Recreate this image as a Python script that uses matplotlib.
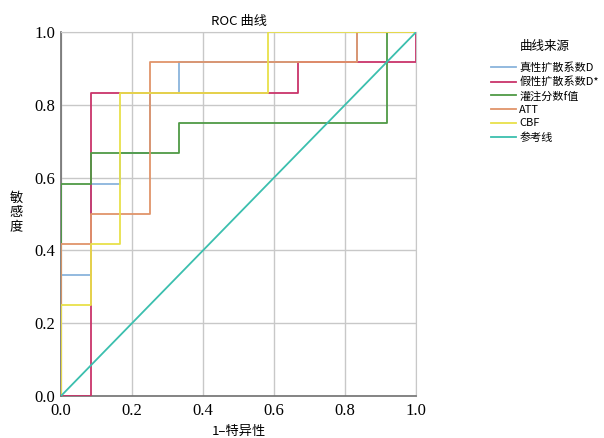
import matplotlib
matplotlib.use("Agg")
import matplotlib.pyplot as plt
from matplotlib.lines import Line2D

plt.rcParams['font.family'] = ['Noto Sans CJK SC', 'DejaVu Sans']

# ROC step points (1-specificity, sensitivity)
d_fpr = [0, 0, 1/12, 1/12, 2/12, 2/12, 3/12, 3/12, 4/12, 4/12, 10/12, 10/12, 1]
d_tpr = [0, 4/12, 4/12, 7/12, 7/12, 8/12, 8/12, 10/12, 10/12, 11/12, 11/12, 1, 1]

dstar_fpr = [0, 1/12, 1/12, 8/12, 8/12, 1, 1]
dstar_tpr = [0, 0, 10/12, 10/12, 11/12, 11/12, 1]

f_fpr = [0, 0, 1/12, 1/12, 4/12, 4/12, 11/12, 11/12, 1]
f_tpr = [0, 7/12, 7/12, 8/12, 8/12, 9/12, 9/12, 1, 1]

att_fpr = [0, 0, 1/12, 1/12, 3/12, 3/12, 10/12, 10/12, 1]
att_tpr = [0, 5/12, 5/12, 6/12, 6/12, 11/12, 11/12, 1, 1]

cbf_fpr = [0, 0, 1/12, 1/12, 2/12, 2/12, 7/12, 7/12, 1]
cbf_tpr = [0, 3/12, 3/12, 5/12, 5/12, 10/12, 10/12, 1, 1]

ref_x = [0, 1]
ref_y = [0, 1]

labels = ['真性扩散系数D', '假性扩散系数D*', '灌注分数f值', 'ATT', 'CBF', '参考线']
colors = ['#8ab4dc', '#c9346a', '#4f9a45', '#e0946a', '#e8e04a', '#3bbfae']

fig = plt.figure(figsize=(6.04, 4.38), dpi=100)
ax = fig.add_axes([0.101, 0.096, 0.588, 0.831])

series = [(d_fpr, d_tpr), (dstar_fpr, dstar_tpr), (f_fpr, f_tpr),
          (att_fpr, att_tpr), (cbf_fpr, cbf_tpr)]
order = [0, 2, 3, 1, 4]
for i in order:
    x, y = series[i]
    ax.plot(x, y, color=colors[i], lw=1.3, zorder=3 + i * 0.1)
ax.plot(ref_x, ref_y, color=colors[5], lw=1.3, zorder=4)

ax.set_xlim(0, 1)
ax.set_ylim(0, 1)
ticks = [0.0, 0.2, 0.4, 0.6, 0.8, 1.0]
ax.set_xticks(ticks)
ax.set_yticks(ticks)
ax.set_xticklabels([f'{t:.1f}' for t in ticks], family='Liberation Serif', fontsize=12)
ax.set_yticklabels([f'{t:.1f}' for t in ticks], family='Liberation Serif', fontsize=12)
ax.tick_params(axis='x', length=0, pad=5)
ax.tick_params(axis='y', length=0, pad=4)
ax.grid(True, color='#c8c8c8', lw=1.0)
ax.set_axisbelow(True)
for s in ['top', 'right']:
    ax.spines[s].set_color('#c8c8c8')
for s in ['left', 'bottom']:
    ax.spines[s].set_color('#707070')
    ax.spines[s].set_linewidth(1.2)

ax.set_title('ROC 曲线', fontsize=9.5, pad=5)
ax.set_xlabel('1–特异性', fontsize=9.5, labelpad=4)
for k, ch in enumerate(['敏', '感', '度']):
    fig.text(16 / 604, 1 - (198 + 15 * k) / 438, ch, fontsize=9.5,
             ha='center', va='center', rotation=0)

handles = [Line2D([0], [0], color=c, lw=1.3) for c in colors]
leg = fig.legend(handles, labels, title='曲线来源', loc='upper left',
                 bbox_to_anchor=(0.797, 0.932), frameon=False, fontsize=8,
                 title_fontsize=9, handlelength=2.2, handletextpad=0.3,
                 labelspacing=0.32)
leg._legend_box.align = 'center'
leg._legend_box.sep = 7

fig.savefig('out.png', dpi=100)
